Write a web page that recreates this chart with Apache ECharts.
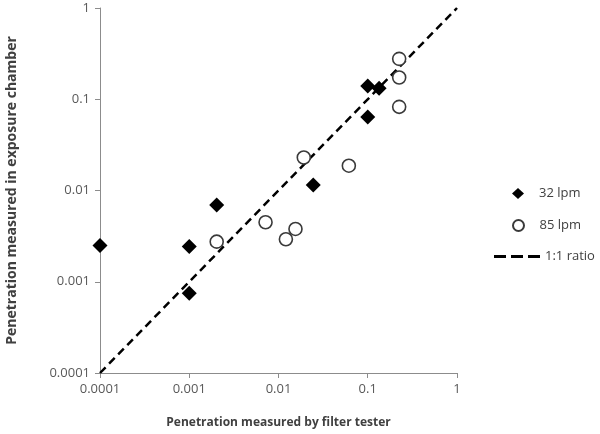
<!DOCTYPE html>
<html>
<head>
<meta charset="utf-8">
<script src="https://cdn.jsdelivr.net/npm/echarts@6/dist/echarts.min.js"></script>
<style>
  html, body { margin: 0; padding: 0; background: #fff; }
  #chart { width: 600px; height: 434px; }
</style>
</head>
<body>
<div id="chart"></div>
<script>
// values (filter tester, exposure chamber)
const lpm32X = [0.0001, 0.001, 0.001, 0.00203, 0.0245, 0.1, 0.1, 0.134];
const lpm32Y = [0.00249, 0.00243, 0.00075, 0.00695, 0.0115, 0.0637, 0.140, 0.132];
const lpm85X = [0.00203, 0.00716, 0.0121, 0.0155, 0.0192, 0.0614, 0.225, 0.225, 0.225];
const lpm85Y = [0.00275, 0.00449, 0.00292, 0.00379, 0.0230, 0.0187, 0.277, 0.173, 0.0826];
const ratioLine = [[0.0001, 0.0001], [1, 1]];
const tickLabels = ['0.0001', '0.001', '0.01', '0.1', '1'];

const font = 'Open Sans';
const chart = echarts.init(document.getElementById('chart'));

function zip(xs, ys) {
    return xs.map(function (x, i) { return [x, ys[i]]; });
}

function ext(a, b) {
    return Object.assign({}, a, b);
}

function fmt(v) {
    // map log ticks onto the labels above
    const i = Math.round(Math.log10(v)) + 4;
    return tickLabels[i] !== undefined ? tickLabels[i] : '';
}

const axisCommon = {
    type: 'log',
    logBase: 10,
    min: 0.0001,
    max: 1,
    splitLine: { show: false },
    minorTick: { show: false },
    axisLine: { lineStyle: { color: '#8c8c8c', width: 1 } },
    axisTick: { show: true, length: 5, lineStyle: { color: '#8c8c8c' } },
    axisLabel: { color: '#595959', fontFamily: font, fontSize: 13, formatter: fmt, margin: 10 },
    nameLocation: 'middle'
};
const nameStyle = { color: '#404040', fontFamily: font, fontWeight: 'bold' };

// three dashes for the 1:1 legend icon
const dashIcon = 'path://M0,0h12v3h-12z M17,0h12v3h-12z M34,0h12v3h-12z';
const legendText = { color: '#404040', fontFamily: font, fontSize: 13 };

chart.setOption({
    animation: false,
    backgroundColor: '#fff',
    grid: { left: 100, right: 143, top: 8, bottom: 61, outerBoundsMode: 'none', containLabel: false },
    xAxis: ext(axisCommon, {
        name: 'Penetration measured by filter tester',
        nameGap: 44,
        nameTextStyle: ext(nameStyle, { fontSize: 12 })
    }),
    yAxis: ext(axisCommon, {
        name: 'Penetration measured in exposure chamber',
        nameGap: 81,
        nameTextStyle: ext(nameStyle, { fontSize: 14 })
    }),
    legend: [
        {
            data: ['32 lpm'], left: 507, top: 182, itemWidth: 12, itemHeight: 11, itemGap: 0,
            textStyle: ext(legendText, { padding: [0, 0, 0, 10] })
        },
        {
            data: ['85 lpm'], left: 507, top: 214, itemWidth: 12, itemHeight: 11,
            textStyle: ext(legendText, { padding: [0, 0, 0, 10] })
        },
        {
            data: [{ name: '1:1 ratio', icon: dashIcon }], left: 489, top: 245,
            itemWidth: 46, itemHeight: 3,
            itemStyle: { color: '#000', borderWidth: 0 },
            textStyle: ext(legendText, { padding: [0, 0, 0, 0] })
        }
    ],
    series: [
        {
            name: '1:1 ratio',
            type: 'line',
            data: ratioLine,
            showSymbol: false,
            symbol: 'none',
            lineStyle: { color: '#000', width: 2.5, type: [8, 5] },
            itemStyle: { color: '#000' },
            silent: true,
            z: 1
        },
        {
            name: '32 lpm',
            type: 'scatter',
            data: zip(lpm32X, lpm32Y),
            symbol: 'diamond',
            symbolSize: [15, 15],
            itemStyle: { color: '#000', opacity: 1 },
            z: 3
        },
        {
            name: '85 lpm',
            type: 'scatter',
            data: zip(lpm85X, lpm85Y),
            symbol: 'circle',
            symbolSize: 13,
            itemStyle: { color: '#fff', borderColor: '#3a3a3a', borderWidth: 1.6, opacity: 1 },
            z: 2
        }
    ]
});
</script>
</body>
</html>
